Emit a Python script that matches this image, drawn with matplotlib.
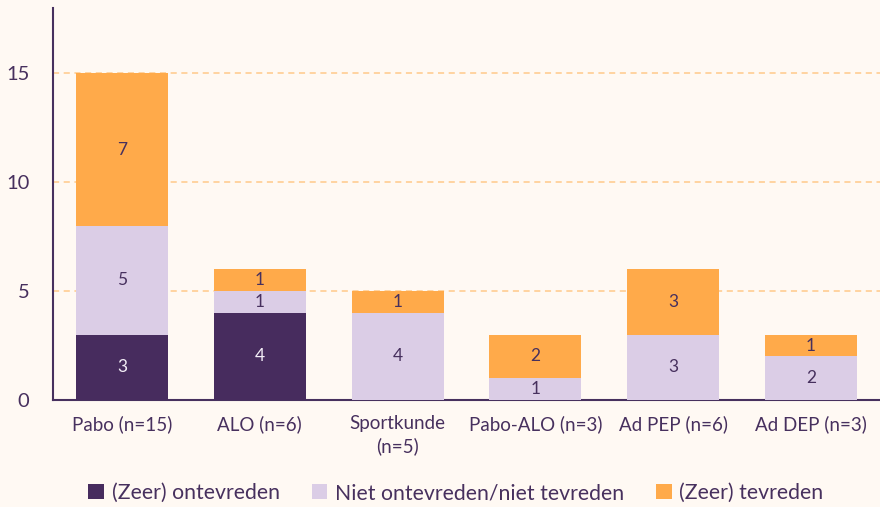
import matplotlib
matplotlib.use('Agg')
import matplotlib.pyplot as plt
import numpy as np

plt.rcParams['font.family'] = ['Lato', 'DejaVu Sans']

categories = ['Pabo (n=15)', 'ALO (n=6)', 'Sportkunde\n(n=5)', 'Pabo-ALO (n=3)',
              'Ad PEP (n=6)', 'Ad DEP (n=3)']
ontevreden = [3, 4, 0, 0, 0, 0]
neutraal = [5, 1, 4, 1, 3, 2]
tevreden = [7, 1, 1, 2, 3, 1]
series_names = ['(Zeer) ontevreden', 'Niet ontevreden/niet tevreden', '(Zeer) tevreden']

BG = '#FFF9F3'
TXT = '#47305E'
colors = ['#472C5E', '#DBCDE6', '#FFAA4A']
label_colors = ['#F3EEF7', TXT, TXT]

fig = plt.figure(figsize=(8.8, 5.07), dpi=100, facecolor=BG)
ax = fig.add_axes([0.0602, 0.211, 0.9398, 0.773], facecolor=BG)

x = np.arange(len(categories))
bottom = np.zeros(len(categories))
for vals, col, lc, name in zip([ontevreden, neutraal, tevreden], colors, label_colors, series_names):
    vals = np.array(vals, dtype=float)
    ax.bar(x, vals, 0.667, bottom=bottom, color=col, label=name, zorder=3)
    for xi, v, b in zip(x, vals, bottom):
        if v > 0:
            ax.text(xi, b + v / 2, f'{int(v)}', ha='center', va='center',
                    color=lc, fontsize=12.5, zorder=4)
    bottom += vals

ax.set_xlim(-0.5, 5.5)
ax.set_ylim(0, 18)
ax.set_yticks([0, 5, 10, 15])
for yv in [5, 10, 15]:
    ax.axhline(yv, color='#FFC98A', lw=1.1, ls=(0, (4, 3)), zorder=1)

ax.set_xticks(x)
ax.set_xticklabels(categories, fontsize=13.5, color=TXT, linespacing=1.35)
ax.tick_params(axis='y', labelsize=14.5, colors=TXT, length=0, pad=17)
ax.tick_params(axis='x', length=0, pad=11)
for s in ['top', 'right']:
    ax.spines[s].set_visible(False)
for s in ['left', 'bottom']:
    ax.spines[s].set_color(TXT)
    ax.spines[s].set_linewidth(1.5)

fig.legend(loc='lower center', bbox_to_anchor=(0.518, -0.03), ncol=3, frameon=False,
           fontsize=15.3, labelcolor=TXT, handlelength=0.75, handleheight=0.75,
           handletextpad=0.35, columnspacing=1.5)

plt.savefig('out.png', dpi=100, facecolor=BG)
